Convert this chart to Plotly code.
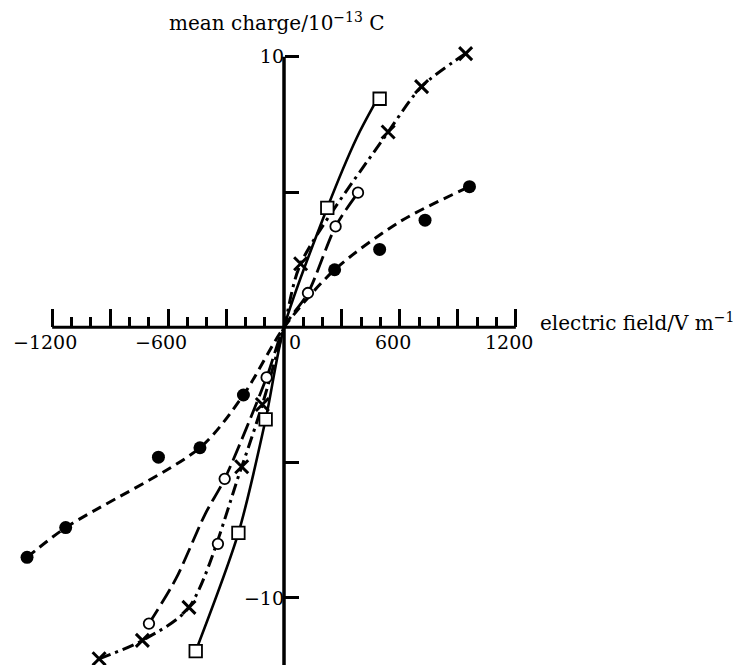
import plotly.graph_objects as go

# ---- measured points: mean charge (10^-13 C) vs electric field (V/m) ----
# filled circles
filled_x = [-1330, -1130, -650, -435, -210, 262, 495, 730, 960]
filled_y = [-8.5, -7.4, -4.8, -4.45, -2.5, 2.13, 2.88, 3.96, 5.2]
# smoothed dashed curve drawn for the filled-circle series
filled_curve_x = [-1330, -1130, -435, -210, 0, 262, 605, 960]
filled_curve_y = [-8.5, -7.4, -4.45, -2.5, 0, 2.13, 3.93, 5.2]

# open squares
square_x = [-457, -236, -95, 224, 495]
square_y = [-11.97, -7.6, -3.4, 4.42, 8.45]
square_curve_x = [-457, -236, -95, 0, 224, 376, 466]
square_curve_y = [-11.97, -7.6, -3.4, 0, 4.42, 7.0, 8.22]

# open circles
open_x = [-699, -342, -307, -90, 124, 267, 383]
open_y = [-10.95, -8.0, -5.6, -1.85, 1.27, 3.73, 4.98]
open_curve_x = [-699, -560, -408, -307, -90, 0, 124, 267, 383]
open_curve_y = [-10.95, -9.3, -6.9, -5.6, -1.85, 0, 1.27, 3.73, 4.98]

# crosses
cross_x = [-957, -733, -492, -219, -112, 86, 539, 712, 940]
cross_y = [-12.25, -11.57, -10.35, -5.15, -2.85, 2.35, 7.22, 8.9, 10.12]
cross_curve_x = [-957, -733, -492, -219, -112, 0, 86, 539, 712, 940]
cross_curve_y = [-12.25, -11.57, -10.35, -5.15, -2.85, 0, 2.35, 7.22, 8.9, 10.12]

# ---- axis ticks and labels ----
x_major_ticks = [-1200, -900, -600, -300, 300, 600, 900, 1200]
x_minor_ticks = [-1100, -1000, -800, -700, -500, -400, -200, -100,
                 100, 200, 400, 500, 700, 800, 1000, 1100]
x_label_vals = [-1200, -600, 600, 1200]
x_label_text = ["\u22121200", "\u2212600", "600", "1200"]
y_major_ticks = [-10, 10]
y_major_text = ["\u221210", "10"]
y_minor_ticks = [-5, 5]

X_RANGE = [-1470, 2355]
Y_RANGE = [-12.48, 12.1]
AXIS_X_END = 1200
AXIS_Y_TOP = 10

FONT = "DejaVu Serif"
INK = "black"

fig = go.Figure()

# curves
curve_styles = [
    (filled_curve_x, filled_curve_y, "10px,6px", 3),
    (open_curve_x, open_curve_y, "17px,6px", 2.8),
    (cross_curve_x, cross_curve_y, "12px,5px,3px,5px", 3),
    (square_curve_x, square_curve_y, "solid", 2.6),
]
for cx, cy, dash, w in curve_styles:
    fig.add_trace(go.Scatter(
        x=cx, y=cy, mode="lines",
        line=dict(color=INK, width=w, dash=dash, shape="spline", smoothing=0.8),
        hoverinfo="skip", showlegend=False,
    ))

# markers
fig.add_trace(go.Scatter(
    x=filled_x, y=filled_y, mode="markers", cliponaxis=False,
    marker=dict(symbol="circle", size=13, color=INK), showlegend=False))
fig.add_trace(go.Scatter(
    x=open_x, y=open_y, mode="markers", cliponaxis=False,
    marker=dict(symbol="circle", size=10.5, color="white",
                line=dict(color=INK, width=1.8)), showlegend=False))
fig.add_trace(go.Scatter(
    x=square_x, y=square_y, mode="markers", cliponaxis=False,
    marker=dict(symbol="square", size=12.5, color="white",
                line=dict(color=INK, width=1.8)), showlegend=False))
fig.add_trace(go.Scatter(
    x=cross_x, y=cross_y, mode="markers", cliponaxis=False,
    marker=dict(symbol="x-thin", size=13, color=INK,
                line=dict(color=INK, width=3)), showlegend=False))

# axis lines crossing at the origin
fig.add_shape(type="line", x0=-AXIS_X_END, x1=AXIS_X_END, y0=0, y1=0,
              xref="x", yref="y", line=dict(color=INK, width=3), layer="above")
fig.add_shape(type="line", x0=0, x1=0, y0=Y_RANGE[0], y1=AXIS_Y_TOP,
              xref="x", yref="y", line=dict(color=INK, width=3.5), layer="above")

x_pos = (0 - Y_RANGE[0]) / (Y_RANGE[1] - Y_RANGE[0])
y_pos = (0 - X_RANGE[0]) / (X_RANGE[1] - X_RANGE[0])

fig.update_layout(
    width=739, height=665,
    margin=dict(l=0, r=0, t=0, b=0),
    paper_bgcolor="white", plot_bgcolor="white",
    showlegend=False,
    font=dict(family=FONT, color=INK, size=19),
    xaxis=dict(
        range=X_RANGE, domain=[0, 1], anchor="free", position=x_pos,
        showline=False, zeroline=False, showgrid=False, automargin=False,
        tickmode="array", tickvals=x_major_ticks, showticklabels=False,
        ticks="inside", ticklen=18, tickwidth=2.5, tickcolor=INK,
        minor=dict(tickmode="array", tickvals=x_minor_ticks, ticks="inside",
                   ticklen=10, tickwidth=2.5, tickcolor=INK, showgrid=False),
    ),
    yaxis=dict(
        range=Y_RANGE, domain=[0, 1], anchor="free", position=y_pos,
        showline=False, zeroline=False, showgrid=False, automargin=False,
        tickmode="array", tickvals=y_major_ticks, ticktext=y_major_text,
        ticks="inside", ticklen=14, tickwidth=2.5, tickcolor=INK,
        tickfont=dict(family=FONT, size=19, color=INK),
        minor=dict(tickmode="array", tickvals=y_minor_ticks, ticks="inside",
                   ticklen=14, tickwidth=2.5, tickcolor=INK, showgrid=False),
    ),
)

# x tick labels under the horizontal axis
for xv, txt in zip(x_label_vals, x_label_text):
    fig.add_annotation(x=xv, y=0, xref="x", yref="y", text=txt, showarrow=False,
                       xanchor="center", yanchor="top", xshift=-7, yshift=-2,
                       font=dict(family=FONT, size=19, color=INK))
# origin label, right of the vertical axis
fig.add_annotation(x=0, y=0, xref="x", yref="y", text="0", showarrow=False,
                   xanchor="left", yanchor="top", xshift=3, yshift=-2,
                   font=dict(family=FONT, size=19, color=INK))
# axis titles
fig.add_annotation(x=AXIS_X_END, y=0, xref="x", yref="y",
                   text="electric field/V m<sup>\u22121</sup>", showarrow=False,
                   xanchor="left", yanchor="middle", xshift=22, yshift=5,
                   font=dict(family=FONT, size=20, color=INK))
fig.add_annotation(x=-34, y=11.29, xref="x", yref="y",
                   text="mean charge/10<sup>\u221213</sup> C", showarrow=False,
                   xanchor="center", yanchor="middle",
                   font=dict(family=FONT, size=20, color=INK))

fig.write_html("out.html", config={"displayModeBar": False})
